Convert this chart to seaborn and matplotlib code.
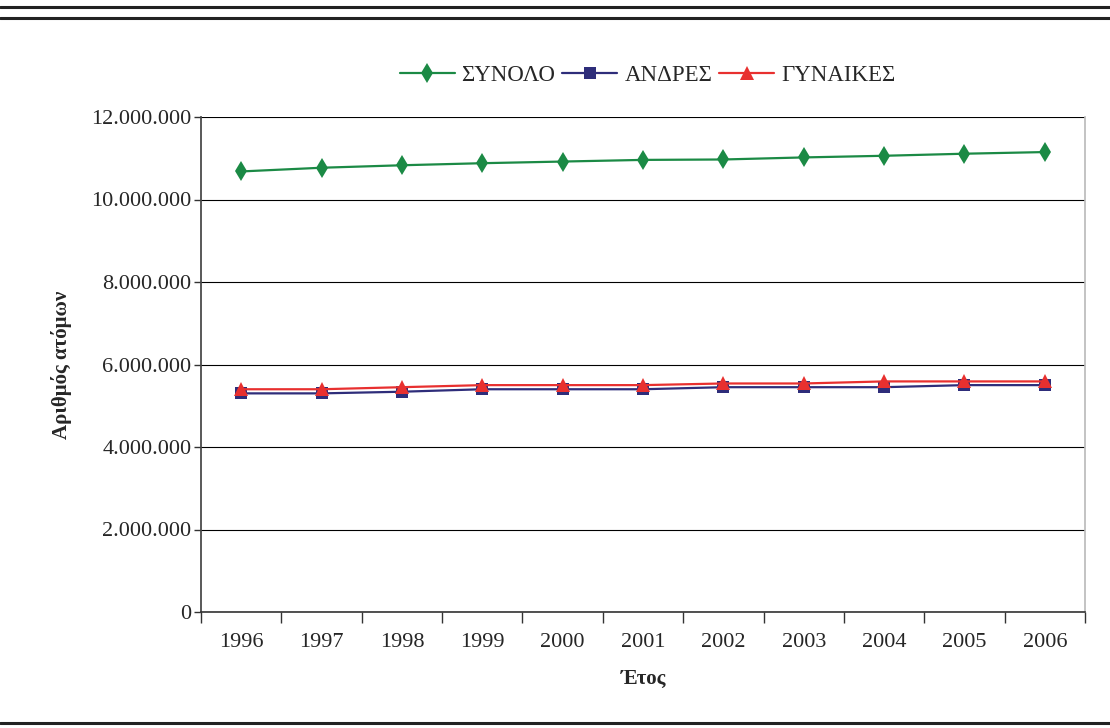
import numpy as np
import pandas as pd
import matplotlib
matplotlib.use("Agg")
import matplotlib.pyplot as plt
from matplotlib.ticker import FixedLocator, FuncFormatter
import seaborn as sns

# Δεδομένα (εκτίμηση από το γράφημα)
etos = [1996, 1997, 1998, 1999, 2000, 2001, 2002, 2003, 2004, 2005, 2006]
synolo = [10_680_000, 10_770_000, 10_830_000, 10_880_000, 10_920_000, 10_960_000,
          10_970_000, 11_020_000, 11_060_000, 11_110_000, 11_150_000]
andres = [5_300_000, 5_300_000, 5_340_000, 5_400_000, 5_400_000, 5_400_000,
          5_450_000, 5_450_000, 5_450_000, 5_500_000, 5_500_000]
gynaikes = [5_400_000, 5_400_000, 5_450_000, 5_500_000, 5_500_000, 5_500_000,
            5_540_000, 5_540_000, 5_590_000, 5_590_000, 5_590_000]

seires = ["ΣΥΝΟΛΟ", "ΑΝΔΡΕΣ", "ΓΥΝΑΙΚΕΣ"]
xromata = {"ΣΥΝΟΛΟ": "#1b8a45", "ΑΝΔΡΕΣ": "#2e2d7a", "ΓΥΝΑΙΚΕΣ": "#e8302f"}
markers = {"ΣΥΝΟΛΟ": "d", "ΑΝΔΡΕΣ": "s", "ΓΥΝΑΙΚΕΣ": "^"}
msize = {"ΣΥΝΟΛΟ": 10, "ΑΝΔΡΕΣ": 8, "ΓΥΝΑΙΚΕΣ": 10}

df = pd.DataFrame({
    "Έτος": etos * 3,
    "Άτομα": synolo + andres + gynaikes,
    "Σειρά": [s for s in seires for _ in etos],
})

sns.set_theme(style="white")
plt.rcParams["font.family"] = ["Liberation Serif", "DejaVu Serif"]

fig = plt.figure(figsize=(11.1, 7.28), dpi=100)
ax = fig.add_axes([201 / 1110, 1 - 612 / 728, 884 / 1110, 495 / 728])

for s in seires:
    d = df[df["Σειρά"] == s]
    sns.lineplot(data=d, x="Έτος", y="Άτομα", ax=ax, color=xromata[s],
                 marker=markers[s], markersize=msize[s],
                 markeredgewidth=0, linewidth=1.6, label=s)

ax.set_xlim(1995.5, 2006.5)
ax.set_ylim(0, 12_000_000)
ax.yaxis.set_major_locator(FixedLocator(np.arange(0, 12_000_001, 2_000_000)))
ax.yaxis.set_major_formatter(FuncFormatter(lambda v, p: f"{int(v):,}".replace(",", ".")))
ax.grid(axis="y", color="black", linewidth=0.8)
ax.set_axisbelow(True)

# όρια κατηγοριών ως κύριες υποδιαιρέσεις, ετικέτες στο κέντρο
ax.xaxis.set_major_locator(FixedLocator(np.arange(1995.5, 2007, 1)))
ax.xaxis.set_major_formatter(FuncFormatter(lambda v, p: ""))
ax.xaxis.set_minor_locator(FixedLocator(etos))
ax.xaxis.set_minor_formatter(FuncFormatter(lambda v, p: str(int(round(v)))))
ax.tick_params(axis="x", which="major", direction="out", length=8, width=1,
               color="#333333", bottom=True)
ax.tick_params(axis="x", which="minor", length=0, pad=15, labelsize=16)
ax.tick_params(axis="y", direction="out", length=5, width=1, color="#333333",
               left=True, labelsize=16, pad=2)

ax.spines["top"].set_visible(False)
ax.spines["left"].set_color("#444444")
ax.spines["bottom"].set_color("#333333")
ax.spines["bottom"].set_linewidth(1.2)
ax.spines["right"].set_color("#bbbbbb")

ax.set_xlabel("Έτος", fontsize=15, fontweight="bold", labelpad=12)
ax.set_ylabel("Αριθμός ατόμων", fontsize=15, fontweight="bold", labelpad=14)

ax.legend(loc="lower center", bbox_to_anchor=(0.505, 1.02), ncol=3,
          frameon=False, fontsize=16.5, handlelength=2.4, handletextpad=0.3,
          columnspacing=0.3)

# οριζόντιες γραμμές πλαισίου
for y in [7, 18, 723]:
    fig.add_artist(plt.Line2D([0.0, 1.0], [1 - y / 728, 1 - y / 728],
                              transform=fig.transFigure, color="#222222", linewidth=2.2))

fig.savefig("out.png", dpi=100)
